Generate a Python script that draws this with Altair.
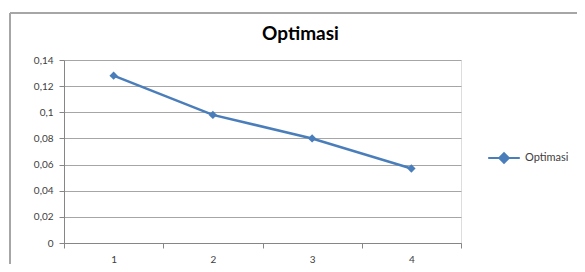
import altair as alt
import pandas as pd

categories = ["1", "2", "3", "4"]
values = [0.128, 0.098, 0.080, 0.057]
series = ["Optimasi"] * 4
y_ticks = [0, 0.02, 0.04, 0.06, 0.08, 0.1, 0.12, 0.14]

df = pd.DataFrame({"x": categories, "y": values, "series": series})

BLUE = "#4A7EBB"
FONT = "Lato"
BORDER = "#A6A6A6"

top_border = alt.Chart(df).mark_rule(stroke=BORDER, strokeWidth=2).encode(
    x=alt.value(-54), x2=alt.value(515), y=alt.value(-47)
)
left_border = alt.Chart(df).mark_rule(stroke=BORDER, strokeWidth=1.5).encode(
    x=alt.value(-54), y=alt.value(-47), y2=alt.value(210)
)

x_enc = alt.X("x:O", sort=categories, title=None,
              axis=alt.Axis(labelAngle=0, tickBand="extent", domainColor="#868686",
                            tickColor="#868686", tickSize=5, labelFont=FONT, labelFontSize=10,
                            labelColor="#404040", labelPadding=6, grid=False))
y_enc = alt.Y("y:Q", title=None, scale=alt.Scale(domain=[0, 0.14]),
              axis=alt.Axis(values=y_ticks, labelOverlap=False,
                            labelExpr="replace(format(datum.value, '~g'), '.', ',')",
                            domainColor="#868686", tickColor="#868686", tickSize=5,
                            gridColor="#A6A6A6", gridWidth=1, labelFont=FONT, labelFontSize=10,
                            labelColor="#404040", labelPadding=6))

legend_sym = "M-1,0L-0.3,0M0.3,0L1,0M-0.3,0L0,-0.3L0.3,0L0,0.3Z"
color_enc = alt.Color("series:N", scale=alt.Scale(range=[BLUE]),
                      legend=alt.Legend(title=None, orient="none", legendX=423, legendY=81,
                                        symbolType=legend_sym, symbolSize=1000,
                                        symbolStrokeWidth=2, symbolFillColor=BLUE,
                                        labelFont=FONT, labelFontSize=11, labelColor="#404040",
                                        labelOffset=4))

base = alt.Chart(df).encode(x=x_enc, y=y_enc, color=color_enc)

line = base.mark_line(strokeWidth=2.5)
points = base.mark_point(shape="diamond", filled=True, size=70, opacity=1)

chart = alt.layer(top_border, left_border, line, points).properties(
    width=397, height=183,
    padding={"left": 56, "top": 52, "right": 116, "bottom": 21},
    autosize=alt.AutoSizeParams(type="none"),
    title=alt.TitleParams("Optimasi", font=FONT, fontSize=19, fontWeight="bold",
                          color="#000000", anchor="middle", frame="group", dx=38,
                          offset=-51, baseline="bottom"),
).configure_view(stroke=None).configure(background="white")

chart.save("out.html", embed_options={"renderer": "svg", "actions": False})
